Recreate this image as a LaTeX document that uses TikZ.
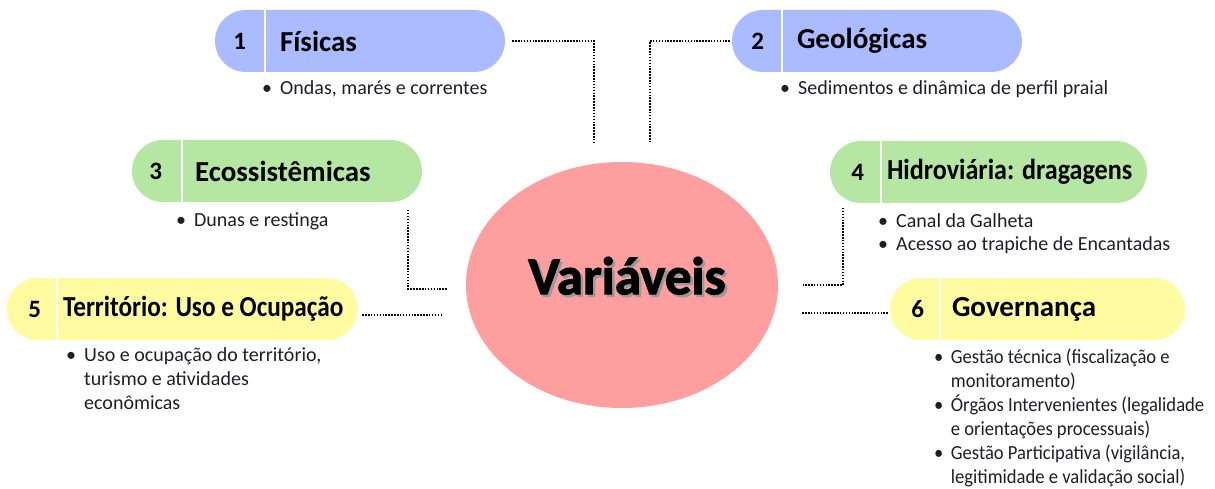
\documentclass[tikz,border=0pt]{standalone}
\usepackage{fontspec}
\setmainfont{Carlito}
\newfontfamily\varfont{Carlito}[BoldFeatures={FakeBold=2}]
\usetikzlibrary{shapes.misc,shapes.geometric}
\definecolor{pillblue}{RGB}{170,187,255}
\definecolor{pillgreen}{RGB}{181,230,162}
\definecolor{pillyellow}{RGB}{255,251,160}
\definecolor{ovalpink}{RGB}{255,158,158}
\definecolor{txt}{RGB}{30,30,40}
\tikzset{
  pill/.style={rounded rectangle, minimum height=62pt, inner sep=0pt, draw=none},
  num/.style={font=\fontsize{25}{25}\selectfont\bfseries, anchor=center, inner sep=0pt},
  ttl/.style={font=\fontsize{29}{29}\selectfont\bfseries, anchor=west, inner sep=0pt},
  lst/.style={font=\fontsize{20}{24}\selectfont, text=txt, anchor=base west, inner sep=0pt},
  conn/.style={line width=2pt, dash pattern=on 1.5pt off 1.4pt},
  divline/.style={white, line width=2pt},
}
\newcommand{\bl}{\makebox[18pt][l]{\textbullet}}
\newcommand{\nb}{\hspace*{18pt}}
\newcommand{\lines}[1]{\begin{tabular}[t]{@{}l@{}}#1\end{tabular}}
\begin{document}
\begin{tikzpicture}[x=1pt,y=-1pt]
\useasboundingbox (0,0) rectangle (1215,489);

% central ellipse
\node[ellipse, fill=ovalpink, minimum width=312pt, minimum height=246pt, inner sep=0pt] (v) at (622,285) {};
\node[font=\varfont\fontsize{53}{53}\selectfont\bfseries, inner sep=0pt] (vt) at (627,277)
  {\makebox[0pt][l]{\hspace{2.5pt}\raisebox{-2.5pt}{\textcolor{black!40}{Variáveis}}}Variáveis};

% box 1
\node[pill, fill=pillblue, minimum width=290pt] (b1) at (360,41) {};
\draw[divline] ([shift={(50,-31)}]b1.west) -- ([shift={(50,31)}]b1.west);
\node[num] (n1) at ([xshift=25]b1.west) {1};
\node[ttl] (t1) at ([xshift=65]b1.west) {Físicas};
\node[lst] (l1) at (262,95) {\lines{\bl Ondas, marés e correntes}};

% box 2
\node[pill, fill=pillblue, minimum width=290pt] (b2) at (877,41) {};
\draw[divline] ([shift={(50,-31)}]b2.west) -- ([shift={(50,31)}]b2.west);
\node[num] (n2) at ([xshift=26]b2.west) {2};
\node[ttl] (t2) at ([xshift=65]b2.west) {Geológicas};
\node[lst] (l2) at (780,95) {\lines{\bl Sedimentos e dinâmica de perfil praial}};

% box 3
\node[pill, fill=pillgreen, minimum width=290pt] (b3) at (277,171) {};
\draw[divline] ([shift={(50,-31)}]b3.west) -- ([shift={(50,31)}]b3.west);
\node[num] (n3) at ([xshift=24]b3.west) {3};
\node[ttl] (t3) at ([xshift=63]b3.west) {Ecossistêmicas};
\node[lst] (l3) at (176,226) {\lines{\bl Dunas e restinga}};

% box 4
\node[pill, fill=pillgreen, minimum width=317pt] (b4) at (988.5,172) {};
\draw[divline] ([shift={(51,-31)}]b4.west) -- ([shift={(51,31)}]b4.west);
\node[num] (n4) at ([xshift=28]b4.west) {4};
\node[ttl] (t4) at ([xshift=57]b4.west) {\scalebox{0.9}[1]{Hidroviária: dragagens}};
\node[lst] (l4) at (878,227) {\lines{\bl Canal da Galheta\\ \bl Acesso ao trapiche de Encantadas}};

% box 5
\node[pill, fill=pillyellow, minimum width=351pt] (b5) at (182.5,309) {};
\draw[divline] ([shift={(50,-31)}]b5.west) -- ([shift={(50,31)}]b5.west);
\node[num] (n5) at ([xshift=28]b5.west) {5};
\node[ttl] (t5) at ([xshift=56]b5.west) {\scalebox{0.87}[1]{Território: Uso e Ocupação}};
\node[lst] (l5) at (66,361) {\lines{\bl Uso e ocupação do território,\\ \nb turismo e atividades\\ \nb econômicas}};

% box 6
\node[pill, fill=pillyellow, minimum width=295pt] (b6) at (1037.5,309) {};
\draw[divline] ([shift={(50,-31)}]b6.west) -- ([shift={(50,31)}]b6.west);
\node[num] (n6) at ([xshift=28]b6.west) {6};
\node[ttl] (t6) at ([xshift=62]b6.west) {Governança};
\node[lst] (l6) at (934,363) {\scalebox{0.93}[1]{\lines{\bl Gestão técnica (fiscalização e\\ \nb monitoramento)\\ \bl Órgãos Intervenientes (legalidade\\ \nb e orientações processuais)\\ \bl Gestão Participativa (vigilância,\\ \nb legitimidade e validação social)}}};

% connectors
\coordinate (k1) at (594,143);
\draw[conn] ([xshift=7]b1.east) -| (k1);
\coordinate (k2) at (650,143);
\draw[conn] ([xshift=-2]b2.west) -| (k2);
\coordinate (k3a) at ([shift={(-14,39)}]b3.east);
\coordinate (k3b) at (447,289);
\draw[conn] (k3a) |- (k3b);
\coordinate (k4a) at ([shift={(13,36)}]b4.west);
\coordinate (k4b) at (803,285);
\draw[conn] (k4a) |- (k4b);
\coordinate (k5) at (443,315);
\draw[conn] ([shift={(4,6)}]b5.east) -- (k5);
\coordinate (k6) at (802,313);
\draw[conn] ([shift={(-2,4)}]b6.west) -- (k6);
\end{tikzpicture}
\end{document}
